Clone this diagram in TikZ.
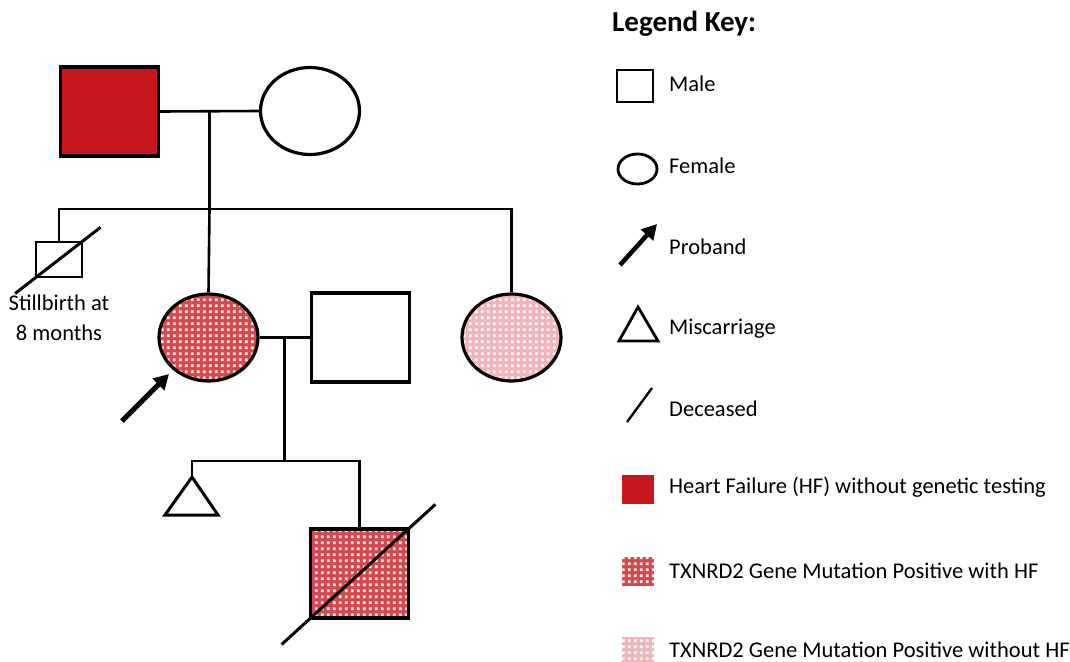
\documentclass[tikz,border=0pt]{standalone}
\usepackage{fontspec}
\setmainfont{Carlito}
\usetikzlibrary{shapes.geometric,patterns.meta,arrows.meta,calc}
\definecolor{hfred}{RGB}{200,24,30}
\definecolor{mutred}{RGB}{212,72,78}
\definecolor{mutpink}{RGB}{242,180,184}
\pgfdeclarepattern{
  name=wdots, type=uncolored,
  bottom left={\pgfpoint{0pt}{0pt}},
  top right={\pgfpoint{5.5pt}{5.5pt}},
  tile size={\pgfpoint{5.5pt}{5.5pt}},
  code={\pgfpathrectangle{\pgfpoint{1pt}{1pt}}{\pgfpoint{2.8pt}{2.8pt}}\pgfusepath{fill}}
}
\tikzset{
  person/.style={draw=black, line width=3.2pt, inner sep=0pt},
  male/.style={person, rectangle, minimum width=98pt, minimum height=89pt},
  female/.style={person, ellipse, minimum width=99pt, minimum height=87pt},
  hf/.style={fill=hfred},
  mutpos/.style={preaction={fill=mutred}, pattern=wdots, pattern color=white!92!red},
  mutneg/.style={preaction={fill=mutpink}, pattern=wdots, pattern color=white},
  conn/.style={line width=2.6pt},
  dead/.style={line width=3pt},
  probarrow/.style={line width=5pt, -{Triangle[length=15pt,width=16pt]}},
  lab/.style={anchor=base west, font=\fontsize{22.5}{26}\selectfont, inner sep=0pt},
  txt/.style={font=\fontsize{22.5}{30}\selectfont, align=center, inner sep=0pt}
}
\begin{document}
\begin{tikzpicture}[x=1pt,y=-1pt]
\useasboundingbox (0,0) rectangle (1070,661);
% generation I
\node[male, hf] (gf) at (109.5,111.5) {};
\node[female] (gm) at (310,111) {};
% generation II
\node[male, line width=2.8pt, minimum width=46pt, minimum height=35pt] (sb) at (59,259.5) {};
\node[female, mutpos] (pr) at (208.5,337.5) {};
\node[male] (hu) at (360.5,337.5) {};
\node[female, mutneg] (au) at (511.5,337.5) {};
% generation III
\coordinate (mc) at (192,477);
\draw[line width=3pt, line join=miter] (mc) -- (165,515) -- (218,515) -- cycle;
\node[male, mutpos] (son) at (359.5,573.5) {};
% connectors
\coordinate (m1) at ($(gf.east)!0.5!(gm.west)$);
\coordinate (sib1) at (m1 |- 0,209);
\draw[conn] (gf.east) -- (gm.west);
\draw[conn] (m1) -- (sib1);
\draw[conn] (sb.north) |- (sib1) -| (au.north);
\draw[conn] (sib1) -- (pr.north);
\coordinate (m2) at ($(pr.east)!0.5!(hu.west)$);
\coordinate (sib2) at (m2 |- 0,461);
\draw[conn] (pr.east) -- (hu.west);
\draw[conn] (m2) -- (sib2);
\draw[conn] (mc) |- (sib2) -| (son.north);
% deceased
\draw[dead] ($(sb.south west)!-0.4!(sb.north east)$) -- ($(sb.north east)!-0.35!(sb.south west)$);
\draw[dead] ($(son.south west)!-0.27!(son.north east)$) -- ($(son.north east)!-0.25!(son.south west)$);
% proband arrow
\coordinate (pa) at (122,421);
\coordinate (pb) at (169,374);
\draw[probarrow] (pa) -- (pb);
\node[txt] (sbl) at (59,318) {Stillbirth at\\8 months};
% legend
\node[anchor=base west, inner sep=0pt, font=\fontsize{29}{34}\bfseries] (lk) at (612,32) {Legend Key:};
\node[male, line width=2.8pt, minimum width=36pt, minimum height=32pt] (lm) at (635,86) {};
\node[lab] (lmt) at (669,92) {Male};
\node[female, line width=2.8pt, minimum width=39pt, minimum height=30pt] (lf) at (637.5,169) {};
\node[lab] (lft) at (669,173) {Female};
\coordinate (lpa) at (620,265);
\coordinate (lpb) at (657,224);
\draw[probarrow, line width=4.5pt] (lpa) -- (lpb);
\node[lab] (lpt) at (669,254) {Proband};
\coordinate (lt) at (638,307);
\draw[line width=2.8pt, line join=miter] (lt) -- (619,341) -- (658,341) -- cycle;
\node[lab] (ltt) at (669,334) {Miscarriage};
\coordinate (ld1) at (627,422);
\coordinate (ld2) at (652,388);
\draw[line width=2.4pt] (ld1) -- (ld2);
\node[lab] (ldt) at (669,416) {Deceased};
\node[rectangle, hf, minimum width=32pt, minimum height=29pt, inner sep=0pt] (lh) at (638,489.5) {};
\node[lab] (lht) at (669,493) {Heart Failure (HF) without genetic testing};
\node[rectangle, mutpos, minimum width=32pt, minimum height=29pt, inner sep=0pt] (lw) at (638,571.5) {};
\node[lab] (lwt) at (669,578) {TXNRD2 Gene Mutation Positive with HF};
\node[rectangle, mutneg, minimum width=32pt, minimum height=26pt, inner sep=0pt] (lo) at (638,650) {};
\node[lab] (lot) at (669,657) {TXNRD2 Gene Mutation Positive without HF};
\end{tikzpicture}
\end{document}
